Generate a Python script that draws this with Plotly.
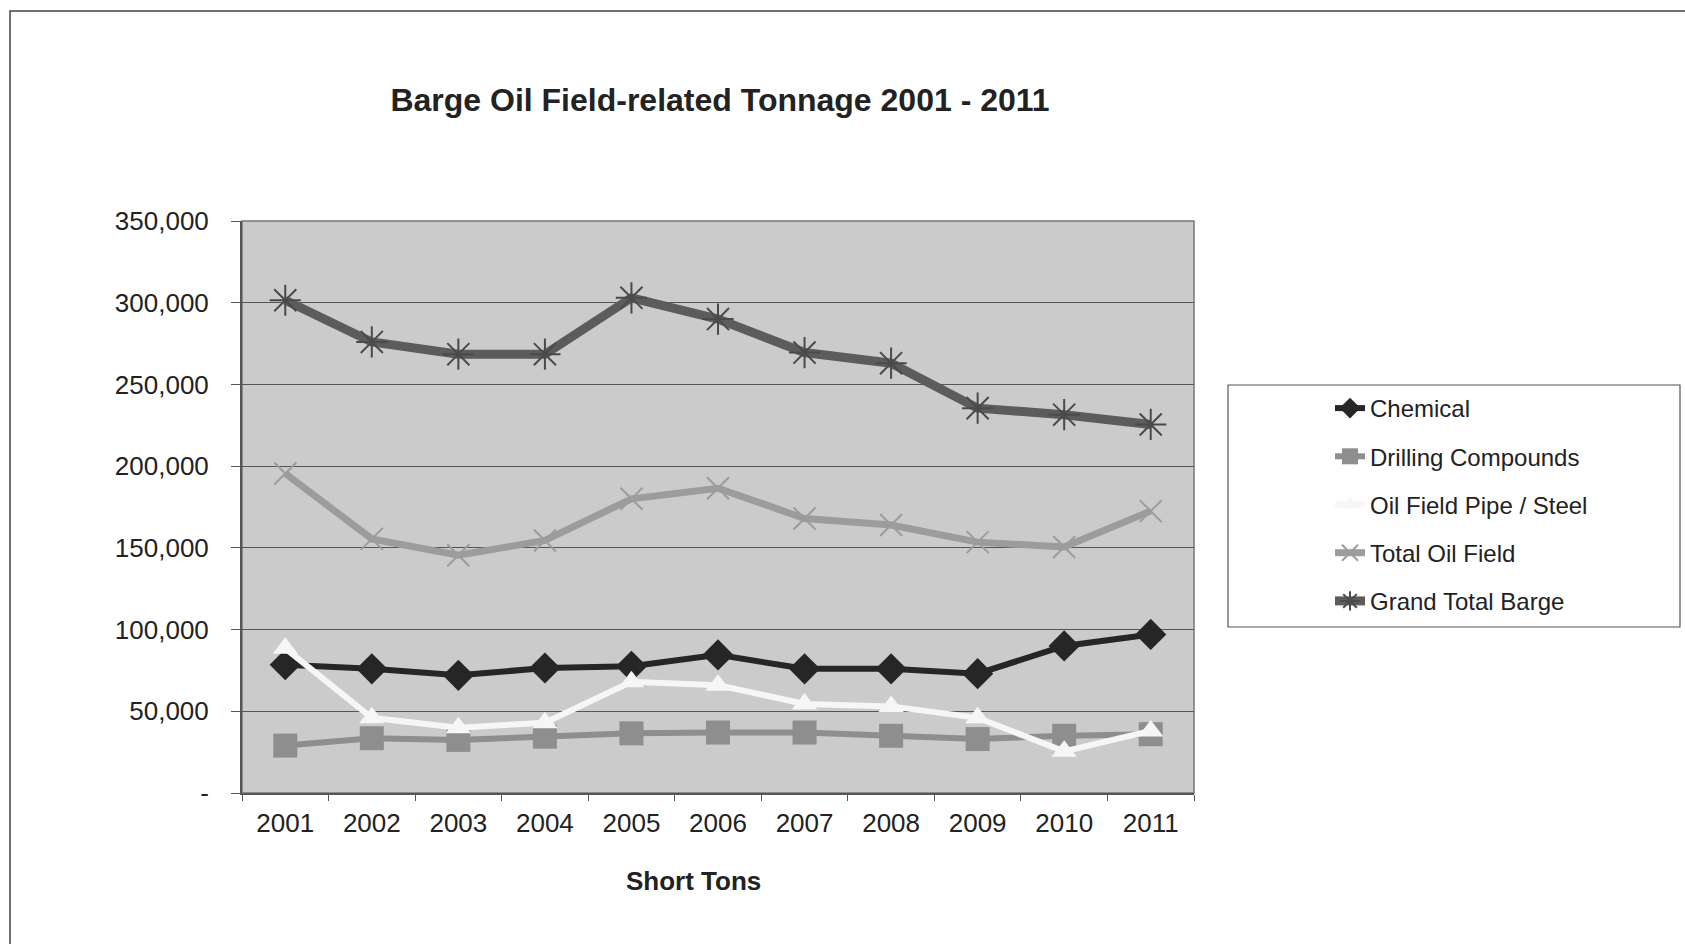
import plotly.graph_objects as go

years = ["2001", "2002", "2003", "2004", "2005", "2006", "2007", "2008", "2009", "2010", "2011"]
chemical = [78500, 76000, 72000, 76500, 77500, 84500, 76000, 76000, 73000, 90000, 97000]
drilling = [29000, 33500, 32500, 34500, 36500, 37000, 37000, 35000, 33000, 35000, 36000]
pipe_steel = [88500, 46000, 40000, 43000, 68000, 66000, 54500, 53000, 46000, 25500, 38000]
total_oil_field = [195500, 155500, 145500, 154500, 180000, 186500, 168000, 164000, 153500, 150500, 172500]
grand_total = [301500, 276000, 268500, 268500, 303000, 290000, 269500, 263000, 235500, 231500, 225500]

ytick_vals = [0, 50000, 100000, 150000, 200000, 250000, 300000, 350000]
ytick_text = ["-", "50,000", "100,000", "150,000", "200,000", "250,000", "300,000", "350,000"]

FONT = "Liberation Sans, Arial, sans-serif"

fig = go.Figure()

series = [
    ("Chemical", chemical, "#262626", 6, "diamond", 24, "#262626", 0),
    ("Drilling Compounds", drilling, "#8e8e8e", 6, "square", 24, "#8e8e8e", 0),
    ("Oil Field Pipe / Steel", pipe_steel, "#f6f6f6", 6, "triangle-up", 22, "#f6f6f6", 0),
    ("Total Oil Field", total_oil_field, "#9c9c9c", 7, "x-thin-open", 22, "#9c9c9c", 2),
    ("Grand Total Barge", grand_total, "#5c5c5c", 9, "asterisk-open", 26, "#4a4a4a", 2),
]
for name, vals, col, lw, sym, ms, mcol, mlw in series:
    fig.add_trace(go.Scatter(
        x=years, y=vals, name=name, mode="lines+markers",
        line=dict(color=col, width=lw),
        marker=dict(symbol=sym, size=ms, color=mcol, line=dict(color=mcol, width=mlw)),
        legendgroup=name,
    ))

# outer frame of the chart (paper coordinates relative to plot area)
L, R, T, B = 242, 1194, 221, 793
W, H = R - L, B - T
def px(x):
    return (x - L) / W
def py(y):
    return (B - y) / H

fig.add_shape(type="rect", xref="paper", yref="paper",
              x0=px(10), x1=px(1700), y0=py(11), y1=py(960),
              line=dict(color="#444", width=1.5), fillcolor="rgba(0,0,0,0)", layer="below")
# legend box
fig.add_shape(type="rect", xref="paper", yref="paper",
              x0=px(1228), x1=px(1680), y0=py(385), y1=py(627),
              line=dict(color="#555", width=1.2), fillcolor="white", layer="below")

fig.add_annotation(text="<b>Short Tons</b>", xref="paper", yref="paper",
                   x=px(693), y=py(881), showarrow=False,
                   font=dict(family=FONT, size=26, color="#222"), xanchor="center", yanchor="middle")

fig.update_layout(
    width=1685, height=944,
    margin=dict(l=L, r=1685 - R, t=T, b=944 - B),
    paper_bgcolor="white",
    plot_bgcolor="#cbcbcb",
    font=dict(family=FONT, size=25, color="#222"),
    title=dict(text="<b>Barge Oil Field-related Tonnage 2001 - 2011</b>",
               x=px(720), xref="paper", xanchor="center",
               y=1 - 100 / 944, yref="container", yanchor="middle",
               font=dict(family=FONT, size=32, color="#222")),
    showlegend=True,
    legend=dict(x=px(1330), y=py(386), xanchor="left", yanchor="top",
                xref="paper", yref="paper",
                bgcolor="rgba(0,0,0,0)", borderwidth=0,
                font=dict(family=FONT, size=24, color="#222"),
                tracegroupgap=14, traceorder="grouped"),
    xaxis=dict(type="category", range=[-0.5, 10.5], showgrid=False,
               showline=True, linecolor="#555", linewidth=2,
               ticks="outside", ticklen=6, tickcolor="#555", tickson="boundaries",
               ticklabelstandoff=6,
               tickfont=dict(family=FONT, size=26, color="#222"), mirror=False),
    yaxis=dict(range=[0, 350000], tickvals=ytick_vals, ticktext=ytick_text,
               showgrid=True, gridcolor="#555", gridwidth=1,
               showline=True, linecolor="#555", linewidth=2,
               ticks="outside", ticklen=9, tickcolor="#555",
               ticklabelstandoff=17, zeroline=False,
               tickfont=dict(family=FONT, size=26, color="#222")),
)
# plot area border on top / right
fig.add_shape(type="rect", xref="paper", yref="paper", x0=0, x1=1, y0=0, y1=1,
              line=dict(color="#777", width=1.5), fillcolor="rgba(0,0,0,0)", layer="below")

fig.write_html("out.html")
